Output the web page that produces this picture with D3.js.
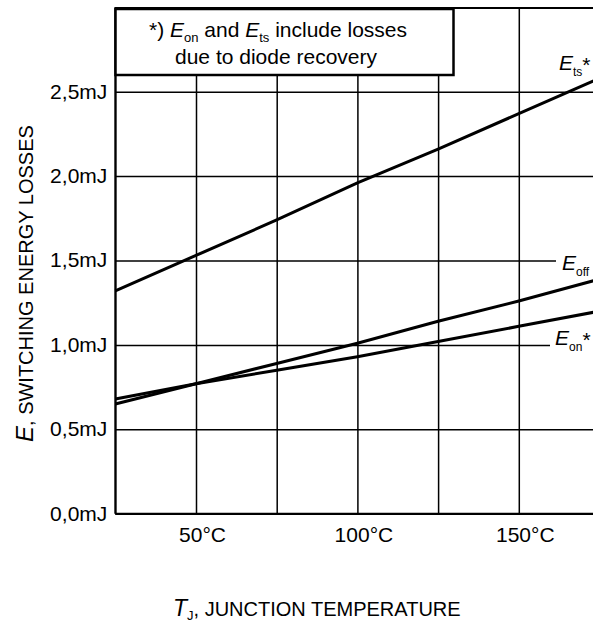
<html>
<head>
<style>
  body { margin: 0; background: white; }
  svg { display: block; font-family: Arial, "Liberation Sans", Helvetica, sans-serif; }
</style>
<script src="https://d3js.org/d3.v7.min.js"></script>
</head>
<body>
<svg id="chart"></svg>
<script>
  // values (mJ vs junction temperature in °C)
  let temps = [25, 50, 75, 100, 125, 150, 175];
  let eTs  = [1.32, 1.53, 1.74, 1.96, 2.16, 2.37, 2.58];
  let eOff = [0.65, 0.77, 0.89, 1.01, 1.14, 1.26, 1.39];
  let eOn  = [0.68, 0.77, 0.85, 0.93, 1.02, 1.11, 1.20];

  let xTicks = [50, 100, 150];
  let xGrid = [25, 50, 75, 100, 125, 150, 175];
  let yTicks = [0, 0.5, 1.0, 1.5, 2.0, 2.5];

  let width = 593, height = 622;
  let margin = { top: 7.3, left: 115.3, bottom: 513.7, right: 599.5 };

  let svg = d3.select("#chart").attr("width", width).attr("height", height);

  let x = d3.scaleLinear().domain([25, 175]).range([margin.left, margin.right]);
  let y = d3.scaleLinear().domain([0, 3]).range([margin.bottom, margin.top]);

  // grid lines
  let gridY = svg.append("g")
    .attr("transform", `translate(${margin.left},0)`)
    .call(d3.axisLeft(y).tickValues(yTicks.concat([3])).tickSize(-(margin.right - margin.left)).tickFormat(""));
  gridY.select(".domain").remove();
  gridY.selectAll("line").attr("stroke", "#000").attr("stroke-width", 1.5);

  let gridX = svg.append("g")
    .attr("transform", `translate(0,${margin.bottom})`)
    .call(d3.axisBottom(x).tickValues(xGrid).tickSize(-(margin.bottom - margin.top)).tickFormat(""));
  gridX.select(".domain").remove();
  gridX.selectAll("line").attr("stroke", "#000").attr("stroke-width", 1.5);

  // tick labels
  let yAxis = svg.append("g")
    .attr("transform", `translate(${margin.left},0)`)
    .call(d3.axisLeft(y).tickValues(yTicks).tickSize(0).tickPadding(8)
      .tickFormat(d => d.toFixed(1).replace(".", ",") + "mJ"));
  yAxis.select(".domain").remove();
  yAxis.selectAll("text").attr("font-size", 21).attr("fill", "#000").attr("font-family", null)
    .attr("dy", "0.3em");

  let xAxis = svg.append("g")
    .attr("transform", `translate(0,${margin.bottom})`)
    .call(d3.axisBottom(x).tickValues(xTicks).tickSize(0).tickPadding(13).tickFormat(d => d + "°C"));
  xAxis.select(".domain").remove();
  xAxis.selectAll("text").attr("font-size", 21).attr("fill", "#000").attr("font-family", null)
    .attr("dx", 6);

  // frame: left and bottom axis lines
  svg.append("line").attr("x1", margin.left).attr("x2", margin.left)
    .attr("y1", margin.top).attr("y2", margin.bottom).attr("stroke", "#000").attr("stroke-width", 2);
  svg.append("line").attr("x1", margin.left).attr("x2", width)
    .attr("y1", margin.bottom).attr("y2", margin.bottom).attr("stroke", "#000").attr("stroke-width", 2);
  svg.append("line").attr("x1", margin.left).attr("x2", width)
    .attr("y1", y(3) + 1).attr("y2", y(3) + 1).attr("stroke", "#000").attr("stroke-width", 1.5);

  // white patches behind curve labels
  svg.append("rect").attr("x", 556).attr("y", 253).attr("width", 40).attr("height", 26).attr("fill", "white");
  svg.append("rect").attr("x", 550).attr("y", 327).attr("width", 45).attr("height", 27).attr("fill", "white");

  // curves
  let line = d3.line().x((d, i) => x(temps[i])).y(d => y(d));
  [eTs, eOff, eOn].forEach(s => {
    svg.append("path").datum(s).attr("d", line)
      .attr("fill", "none").attr("stroke", "#000").attr("stroke-width", 3);
  });

  // curve labels
  function curveLabel(px, py, sub, star) {
    let t = svg.append("text").attr("x", px).attr("y", py).attr("font-size", 21);
    t.append("tspan").attr("font-style", "italic").text("E");
    t.append("tspan").attr("font-size", 12).attr("dy", 6).text(sub);
    if (star) t.append("tspan").attr("dy", -4).text("*");
  }
  curveLabel(559, 70, "ts", true);
  curveLabel(562, 270, "off", false);
  curveLabel(555, 345, "on", true);

  // note box
  svg.append("rect").attr("x", 115.5).attr("y", 9).attr("width", 338).attr("height", 66)
    .attr("fill", "white").attr("stroke", "#000").attr("stroke-width", 2.5);
  let note1 = svg.append("text").attr("x", 278).attr("y", 37).attr("font-size", 21).attr("text-anchor", "middle");
  note1.append("tspan").text("*) ");
  note1.append("tspan").attr("font-style", "italic").text("E");
  note1.append("tspan").attr("font-size", 13).attr("dy", 5).text("on");
  note1.append("tspan").attr("dy", -5).text(" and ");
  note1.append("tspan").attr("font-style", "italic").text("E");
  note1.append("tspan").attr("font-size", 13).attr("dy", 5).text("ts");
  note1.append("tspan").attr("dy", -5).text(" include losses");
  svg.append("text").attr("x", 276).attr("y", 64).attr("font-size", 21).attr("text-anchor", "middle")
    .text("due to diode recovery");

  // axis titles
  let xt = svg.append("text").attr("x", 173).attr("y", 616).attr("font-size", 20);
  xt.append("tspan").attr("font-style", "italic").attr("font-size", 23).text("T");
  xt.append("tspan").attr("font-size", 13).attr("dy", 4).text("J");
  xt.append("tspan").attr("dy", -4).text(", JUNCTION TEMPERATURE");

  let yt = svg.append("text").attr("transform", "translate(33,442) rotate(-90)").attr("font-size", 20);
  yt.append("tspan").attr("font-style", "italic").attr("font-size", 24).text("E");
  yt.append("tspan").text(",  SWITCHING ENERGY LOSSES");
</script>
</body>
</html>
